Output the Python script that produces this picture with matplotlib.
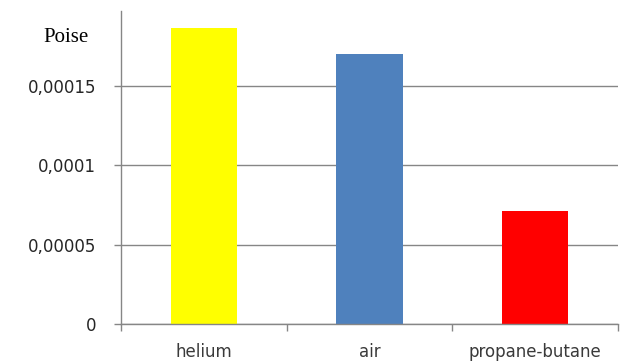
import matplotlib
matplotlib.use("Agg")
import matplotlib.pyplot as plt
from matplotlib.ticker import FixedLocator

# Dynamic viscosity of gases, poise
gases = ["helium", "air", "propane-butane"]
viscosity = [0.000186, 0.000170, 0.000071]
bar_colors = ["#FFFF00", "#4F81BD", "#FF0000"]
y_ticks = [0, 0.00005, 0.0001, 0.00015]
y_tick_labels = ["0", "0,00005", "0,0001", "0,00015"]
unit_label = "Poise"

axis_gray = "#868686"

fig = plt.figure(figsize=(6.22, 3.63), dpi=100)
ax = fig.add_axes([121 / 622, 39 / 363, (618 - 121) / 622, (324 - 11) / 363])

x = list(range(len(gases)))
ax.bar(x, viscosity, width=0.4, color=bar_colors, zorder=3)

ax.set_xlim(-0.5, len(gases) - 0.5)
ax.set_ylim(0, 0.0001969)

# y axis: ticks, comma-decimal labels, horizontal gridlines
ax.yaxis.set_major_locator(FixedLocator(y_ticks))
ax.set_yticklabels(y_tick_labels)
ax.yaxis.grid(True, color=axis_gray, linewidth=1.0, zorder=0)
ax.tick_params(axis="y", direction="out", length=5, width=1, color=axis_gray,
               pad=13, labelsize=12, labelcolor="#262626")

# x axis: tick marks between categories, labels at the category centres
ax.set_xticks(x)
ax.set_xticklabels(gases)
ax.set_xticks([i - 0.5 for i in range(len(gases) + 1)], minor=True)
ax.tick_params(axis="x", which="major", length=0, pad=14, labelsize=12,
               labelcolor="#3a3a3a")
ax.tick_params(axis="x", which="minor", direction="out", length=5, width=1,
               color=axis_gray)

for side in ("top", "right"):
    ax.spines[side].set_visible(False)
for side in ("left", "bottom"):
    ax.spines[side].set_color(axis_gray)
    ax.spines[side].set_linewidth(1.0)
    ax.spines[side].set_zorder(4)

fig.text(66 / 622, 1 - 38 / 363, unit_label, family="Liberation Serif",
         fontsize=15, ha="center", va="center", color="black")

fig.savefig("out.png", dpi=100, facecolor="white")
